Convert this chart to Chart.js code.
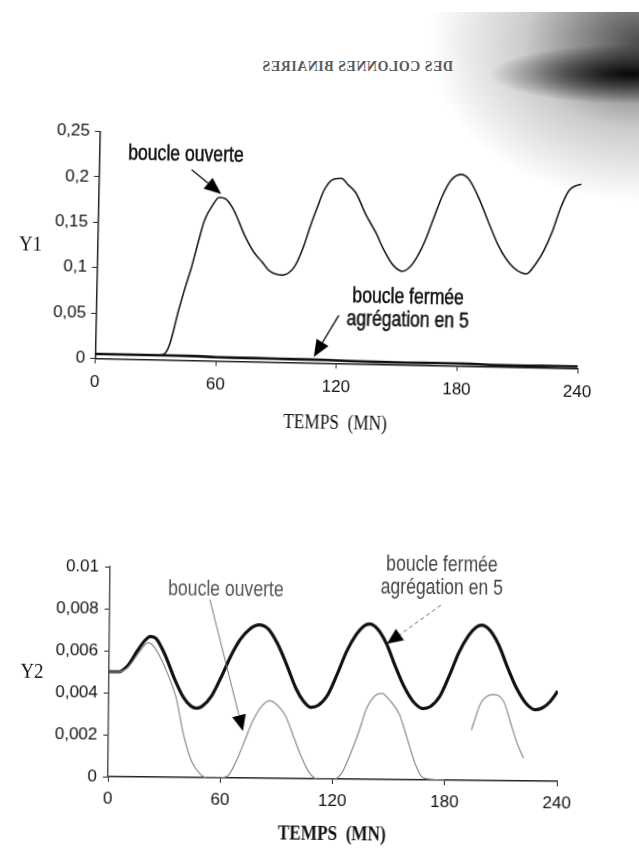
<!DOCTYPE html>
<html>
<head>
<meta charset="utf-8">
<script src="https://cdn.jsdelivr.net/npm/chart.js@4.4.1/dist/chart.umd.min.js"></script>
<style>
  html, body { margin: 0; padding: 0; background: #fff; }
  body { width: 639px; height: 855px; position: relative; overflow: hidden; }
  canvas { position: absolute; left: 0; }
  #top { top: 0; transform-origin: 339px 250px; transform: rotate(1.2deg); }
  #bottom { top: 430px; transform-origin: 333px 244px; transform: rotate(0.6deg); }
  .shade {
    position: absolute; left: 380px; top: 12px; width: 259px; height: 230px;
    background:
      radial-gradient(ellipse 140px 30px at 250px 62px, rgba(0,0,0,0.95), rgba(0,0,0,0) 100%),
      radial-gradient(ellipse 210px 160px at 259px 30px, rgba(0,0,0,0.7), rgba(0,0,0,0.2) 55%, rgba(0,0,0,0) 100%);
  }
  .mirror {
    position: absolute; left: 262px; top: 59px; font: bold 14px "Liberation Serif", serif;
    color: #333; transform: scaleX(-1); letter-spacing: 0.5px; opacity: 0.8;
  }
</style>
</head>
<body>
<div class="shade"></div>
<div class="mirror">DES COLONNES BINAIRES</div>
<canvas id="top" width="639" height="445"></canvas>
<canvas id="bottom" width="639" height="425"></canvas>
<script>
// ---- data: top chart (Y1) ----
const xTickLabels = ['0', '60', '120', '180', '240'];
const y1TickLabels = ['0', '0,05', '0,1', '0,15', '0,2', '0,25'];
const y2TickLabels = ['0', '0,002', '0,004', '0,006', '0,008', '0.01'];

const open1T = [0, 10, 20, 28, 32, 35, 37, 41, 44, 47, 50, 53, 57, 60, 63, 67, 73.5, 78, 82, 86, 92, 98, 102, 106, 109, 112, 116, 120.5,
  124, 128, 133, 138.5, 142, 147, 152, 156, 159, 163, 167, 171, 175, 180, 184, 189, 194, 199, 203, 208, 213.5, 218, 222, 226, 230, 234, 237, 240];
const open1Y = [0.005, 0.005, 0.0049, 0.0047, 0.005, 0.008, 0.018, 0.055, 0.08, 0.103, 0.13, 0.155, 0.172, 0.18, 0.179, 0.168, 0.137, 0.12, 0.11, 0.1, 0.096, 0.105, 0.125, 0.153, 0.172, 0.19, 0.202, 0.204,
  0.197, 0.188, 0.165, 0.144, 0.128, 0.11, 0.103, 0.109, 0.119, 0.138, 0.163, 0.187, 0.204, 0.211, 0.206, 0.186, 0.16, 0.135, 0.12, 0.108, 0.103, 0.114, 0.129, 0.15, 0.177, 0.196, 0.201, 0.203];

const closed1T = [0, 20, 40, 50, 60, 75, 90, 105, 115, 125, 140, 155, 170, 180, 190, 200, 215, 230, 240];
const closed1Y = [0.005, 0.005, 0.005, 0.0048, 0.0042, 0.004, 0.0038, 0.0037, 0.0035, 0.003, 0.0026, 0.0024, 0.0027, 0.0028, 0.0024, 0.002, 0.002, 0.0022, 0.0022];

// ---- data: bottom chart (Y2) ----
const closed2T = [0, 5, 10, 15, 19, 22, 25, 30, 35, 40, 44, 47, 50, 55, 60, 65, 70, 75, 80, 85, 90, 95, 100, 104, 108, 112, 117, 122, 127, 132, 136, 139,
  143, 148, 153, 158, 163, 168, 172, 177, 182, 187, 192, 196, 199, 203, 208, 213, 218, 223, 228, 232, 236, 240];
const closed2Y = [0.005, 0.005, 0.0053, 0.006, 0.0065, 0.0067, 0.0066, 0.0058, 0.0047, 0.0038, 0.0034, 0.0033, 0.0034, 0.0039, 0.0048, 0.0058, 0.0066, 0.0071, 0.0073, 0.0071, 0.0064, 0.0054, 0.0043, 0.0037, 0.0034, 0.0035, 0.004, 0.005, 0.0061, 0.0069, 0.0073, 0.0074,
  0.0072, 0.0065, 0.0054, 0.0044, 0.0037, 0.0034, 0.0035, 0.004, 0.005, 0.0061, 0.0069, 0.0073, 0.0074, 0.0072, 0.0065, 0.0054, 0.0044, 0.0037, 0.0034, 0.0035, 0.0038, 0.0043];

const open2T = [0, 5, 10, 15, 19, 21, 24, 28, 31.5, 36, 40, 44.5, 49, 53, 58, 64, 68.5, 73, 77, 81.5, 86, 90, 94.5, 99, 103, 107.5, 112, 121, 125, 129.5, 134, 138, 142.5, 146, 150, 155.5, 160, 164, 168.5, 180,
  186, 194, 199, 205.5, 211, 215.5, 218.5, 222];
const open2Y = [0.005, 0.005, 0.0052, 0.0058, 0.0063, 0.0064, 0.0062, 0.0056, 0.0049, 0.0038, 0.0021, 0.0008, 0.0002, 0, 0, 0.0001, 0.0008, 0.0018, 0.0027, 0.0034, 0.0037, 0.0035, 0.003, 0.002, 0.0011, 0.0003, 0, 0, 0.0003, 0.0012, 0.0023, 0.0034, 0.004, 0.0041, 0.0038, 0.0031, 0.0019, 0.0008, 0.0001, 0,
  null, 0.0024, 0.0037, 0.0041, 0.0038, 0.0026, 0.0018, 0.0011];

const SANS = '"Liberation Sans", Arial, sans-serif';
const SERIF = '"Liberation Serif", "Times New Roman", serif';

function pts(ts, ys) {
  return ts.map((t, i) => ({ x: t, y: ys[i] }));
}

// condensed text: the print uses a narrow face, so squeeze horizontally
function narrowText(ctx, text, x, y, sx, stroke) {
  ctx.save();
  ctx.translate(x, y);
  ctx.scale(sx, 1);
  ctx.fillText(text, 0, 0);
  if (stroke) {
    ctx.lineWidth = stroke;
    ctx.strokeStyle = ctx.fillStyle;
    ctx.strokeText(text, 0, 0);
  }
  ctx.restore();
}

function drawArrow(ctx, x1, y1, x2, y2, a) {
  const ang = Math.atan2(y2 - y1, x2 - x1);
  const hl = a.head || 16, hw = a.headW || 6;
  const bx = x2 - hl * Math.cos(ang), by = y2 - hl * Math.sin(ang);
  ctx.save();
  ctx.strokeStyle = a.color || '#111';
  ctx.lineWidth = a.width || 1.4;
  ctx.setLineDash(a.dash || []);
  ctx.beginPath();
  ctx.moveTo(x1, y1);
  ctx.lineTo(bx, by);
  ctx.stroke();
  ctx.setLineDash([]);
  ctx.fillStyle = '#000';
  ctx.beginPath();
  ctx.moveTo(x2, y2);
  ctx.lineTo(bx + hw * Math.sin(ang), by - hw * Math.cos(ang));
  ctx.lineTo(bx - hw * Math.sin(ang), by + hw * Math.cos(ang));
  ctx.closePath();
  ctx.fill();
  ctx.restore();
}

// labels, arrows and axis titles, placed through the chart's own scales
const notesPlugin = {
  id: 'notes',
  afterDraw(chart, args, opts) {
    const ctx = chart.ctx, xs = chart.scales.x, ys = chart.scales.y, area = chart.chartArea;
    ctx.save();
    ctx.textAlign = 'center';
    ctx.textBaseline = 'middle';
    (opts.texts || []).forEach(n => {
      ctx.font = (n.size || 22) + 'px ' + SANS;
      ctx.fillStyle = n.color || '#111';
      narrowText(ctx, n.text, xs.getPixelForValue(n.t), ys.getPixelForValue(n.v), 0.8, n.stroke);
    });
    (opts.arrows || []).forEach(a => {
      drawArrow(ctx, xs.getPixelForValue(a.from[0]), ys.getPixelForValue(a.from[1]),
        xs.getPixelForValue(a.to[0]), ys.getPixelForValue(a.to[1]), a);
    });
    const yt = opts.yTitle, xt = opts.xTitle;
    ctx.fillStyle = '#111';
    ctx.font = yt.size + 'px ' + SERIF;
    narrowText(ctx, yt.text, area.left + yt.dx, (area.top + area.bottom) / 2 + yt.dy, 0.9);
    ctx.font = (xt.weight || 'normal') + ' ' + xt.size + 'px ' + SERIF;
    narrowText(ctx, xt.text, (area.left + area.right) / 2, area.bottom + xt.dy, 0.82);
    ctx.restore();
  }
};

function makeChart(id, cfg) {
  return new Chart(document.getElementById(id), {
    type: 'line',
    data: { datasets: cfg.datasets },
    options: {
      responsive: false,
      animation: false,
      layout: { padding: cfg.padding },
      plugins: { legend: { display: false }, tooltip: { enabled: false }, notes: cfg.notes },
      elements: { point: { radius: 0 }, line: { cubicInterpolationMode: 'monotone' } },
      scales: {
        x: {
          type: 'linear', min: 0, max: 240,
          afterFit: s => { s.height = 40; },
          border: { color: '#222', width: 1.5 },
          grid: { drawOnChartArea: false, tickLength: 5, color: '#222' },
          ticks: {
            stepSize: 60, autoSkip: false, maxRotation: 0, padding: cfg.xPad, color: '#111',
            font: { family: SANS, size: 17 },
            callback: (v, i) => xTickLabels[i]
          }
        },
        y: {
          min: 0, max: cfg.yMax,
          afterFit: s => { s.width = 60; },
          border: { color: cfg.yAxisColor, width: 1.5, dash: cfg.yDash },
          grid: { drawOnChartArea: false, tickLength: 5, color: '#222' },
          ticks: {
            stepSize: cfg.yStep, padding: cfg.yPad, color: '#111',
            font: { family: SANS, size: 17 },
            callback: (v, i) => cfg.yLabels[i]
          }
        }
      }
    },
    plugins: [notesPlugin]
  });
}

makeChart('top', {
  padding: { left: 37.5, right: 59, top: 136.5, bottom: 41.5 },
  yMax: 0.25, yStep: 0.05, yLabels: y1TickLabels, yAxisColor: '#222', yDash: [],
  xPad: 9, yPad: 5,
  datasets: [
    { data: pts(closed1T, closed1Y), borderColor: '#111', borderWidth: 2.6 },
    { data: pts(open1T, open1Y), borderColor: '#1a1a1a', borderWidth: 1.6 }
  ],
  notes: {
    texts: [
      { t: 43, v: 0.226, text: 'boucle ouverte', stroke: 0.5 },
      { t: 155, v: 0.0748, text: 'boucle fermée', stroke: 0.5 },
      { t: 155, v: 0.0494, text: 'agrégation en 5', stroke: 0.5 }
    ],
    arrows: [
      { from: [46, 0.21], to: [61, 0.184], head: 17, headW: 7 },
      { from: [120.7, 0.053], to: [108.7, 0.0066], head: 17, headW: 7 }
    ],
    yTitle: { text: 'Y1', dx: -67, dy: 1.5, size: 21 },
    xTitle: { text: 'TEMPS  (MN)', dy: 59.5, size: 21 }
  }
});

makeChart('bottom', {
  padding: { left: 49, right: 81, top: 139, bottom: 36 },
  yMax: 0.01, yStep: 0.002, yLabels: y2TickLabels, yAxisColor: '#555', yDash: [3, 2],
  xPad: 7, yPad: 6,
  datasets: [
    { data: pts(open2T, open2Y), borderColor: '#8a8a8a', borderWidth: 1.2, spanGaps: false },
    { data: pts(closed2T, closed2Y), borderColor: '#111', borderWidth: 3.2 }
  ],
  notes: {
    texts: [
      { t: 177.4, v: 0.01024, text: 'boucle fermée', color: '#444' },
      { t: 177.4, v: 0.00914, text: 'agrégation en 5', color: '#444' },
      { t: 62, v: 0.00895, text: 'boucle ouverte', color: '#555' }
    ],
    arrows: [
      { from: [177, 0.00833], to: [148.4, 0.00646], color: '#666', width: 1, dash: [4, 3], head: 16, headW: 7 },
      { from: [53.5, 0.00849], to: [71.9, 0.00224], color: '#777', width: 1, head: 16, headW: 7 }
    ],
    yTitle: { text: 'Y2', dx: -77, dy: 1, size: 21 },
    xTitle: { text: 'TEMPS  (MN)', dy: 56, size: 21, weight: 'bold' }
  }
});
</script>
</body>
</html>
